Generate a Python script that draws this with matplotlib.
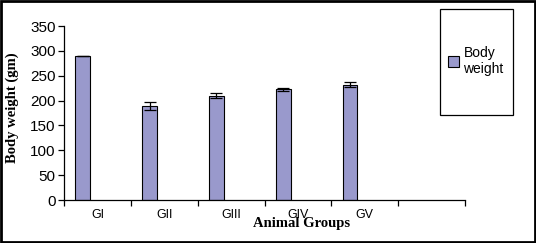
import matplotlib
matplotlib.use("Agg")
import matplotlib.pyplot as plt
from matplotlib.patches import Rectangle
import numpy as np

groups = ["GI", "GII", "GIII", "GIV", "GV", ""]
body_weight = [290, 190, 210, 223, 232, np.nan]
body_weight_err = [0, 8, 5, 3, 4.5, np.nan]
yticks = [0, 50, 100, 150, 200, 250, 300, 350]

BAR = "#9999cc"

fig = plt.figure(figsize=(5.36, 2.43), dpi=100)
ax = fig.add_axes([64 / 536, 1 - 200 / 243, (465 - 64) / 536, (200 - 26) / 243])

x = np.arange(len(groups))
ax.bar(x - 0.22, body_weight, width=0.22, color=BAR, edgecolor="black", linewidth=0.8,
       yerr=body_weight_err, capsize=4.5, error_kw={"elinewidth": 0.9, "capthick": 0.9},
       label="Body\nweight")

ax.set_xlim(-0.5, len(groups) - 0.5)
ax.set_ylim(0, 350)
ax.set_yticks(yticks)
ax.set_yticklabels([str(v) for v in yticks], family="Liberation Sans", fontsize=11)
ax.set_xticks(list(x - 0.5) + [len(groups) - 0.5])
ax.set_xticklabels([])
for i, g in enumerate(groups):
    ax.text(i, -30, g, ha="center", va="center", family="Liberation Sans", fontsize=9)
ax.tick_params(axis="both", direction="out", length=4, width=0.9, colors="black", pad=2)
ax.spines["top"].set_visible(False)
ax.spines["right"].set_visible(False)
for s in ("left", "bottom"):
    ax.spines[s].set_linewidth(0.9)

fig.text(12 / 536, 1 - 108 / 243, "Body weight (gm)", rotation=90, ha="center", va="center",
         family="Liberation Serif", fontweight="bold", fontsize=10.5)
fig.text(302 / 536, 1 - 223 / 243, "Animal Groups", ha="center", va="center",
         family="Liberation Serif", fontweight="bold", fontsize=10.5)

# legend box
fig.patches.append(Rectangle((440 / 536, 1 - 115 / 243), 73 / 536, 106 / 243,
                             transform=fig.transFigure, fill=False, edgecolor="black", linewidth=0.9))
fig.legend(loc="center", bbox_to_anchor=(476 / 536, 1 - 61 / 243), frameon=False,
           prop={"family": "Liberation Sans", "size": 10}, handlelength=0.8, handleheight=0.8,
           handletextpad=0.3, borderpad=0)

# outer frame
fig.patches.append(Rectangle((0.002, 0.004), 0.996, 0.992, transform=fig.transFigure,
                             fill=False, edgecolor="black", linewidth=2))

fig.savefig("out.png", dpi=100)
